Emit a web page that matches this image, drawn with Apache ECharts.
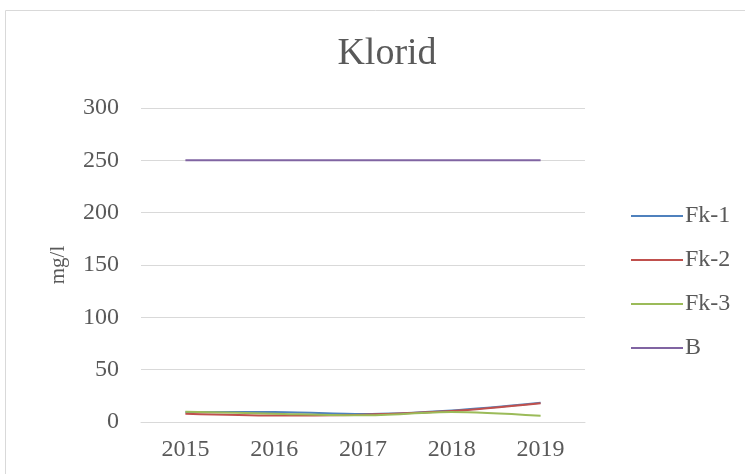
<!DOCTYPE html>
<html><head><meta charset="utf-8">
<script src="https://cdn.jsdelivr.net/npm/echarts@6/dist/echarts.min.js"></script>
<style>html,body{margin:0;padding:0;background:#fff}#c{width:745px;height:474px}</style>
</head><body><div id="c"></div>
<script>
const years = ['2015','2016','2017','2018','2019'];
const fk1 = [9.3, 9.5, 7.6, 11.0, 18.4];
const fk2 = [8.0, 6.3, 7.0, 10.5, 18.0];
const fk3 = [9.9, 8.0, 6.4, 9.6, 6.0];
const b = [250, 250, 250, 250, 250];
const names = ['Fk-1','Fk-2','Fk-3','B'];
const colors = ['#4F81BD','#C0504D','#9BBB59','#8064A2'];
const font = 'Liberation Serif';
const chart = echarts.init(document.getElementById('c'));
const mk = (n, d, i) => ({name: n, type: 'line', data: d, smooth: i < 3 ? 0.3 : false, symbol: 'none',
  lineStyle: {color: colors[i], width: 2}, itemStyle: {color: colors[i]}});
chart.setOption({
  animation: false,
  graphic: [{type: 'rect', shape: {x: 5.5, y: 10.5, width: 760, height: 480}, style: {fill: 'none', stroke: '#D9D9D9', lineWidth: 1}}],
  title: {text: 'Klorid', left: 382, top: 30, textAlign: 'center',
    textStyle: {fontFamily: font, fontSize: 38, fontWeight: 'normal', color: '#595959'}},
  legend: {orient: 'vertical', left: 626, top: 199, itemGap: 20, itemWidth: 52, itemHeight: 14,
    data: names.map((n, i) => ({name: n, icon: 'path://M0,0 L52,0 L52,2 L0,2 Z'})),
    textStyle: {fontFamily: font, fontSize: 24, lineHeight: 24, color: '#595959', padding: [0,0,0,-3]}},
  grid: {left: 141, right: 160, top: 108, bottom: 52},
  xAxis: {type: 'category', data: years, boundaryGap: true,
    axisLine: {lineStyle: {color: '#D9D9D9', width: 1}}, axisTick: {show: false},
    axisLabel: {fontFamily: font, fontSize: 24, color: '#595959', margin: 16}},
  yAxis: {type: 'value', min: 0, max: 300, interval: 50, name: 'mg/l', nameLocation: 'middle', nameGap: 72,
    nameTextStyle: {fontFamily: font, fontSize: 21, color: '#595959'},
    axisLine: {show: false}, axisTick: {show: false},
    splitLine: {lineStyle: {color: '#D9D9D9', width: 1}},
    axisLabel: {fontFamily: font, fontSize: 24, color: '#595959', margin: 22}},
  series: [mk(names[0], fk1, 0), mk(names[1], fk2, 1), mk(names[2], fk3, 2), mk(names[3], b, 3)]
});
</script></body></html>
